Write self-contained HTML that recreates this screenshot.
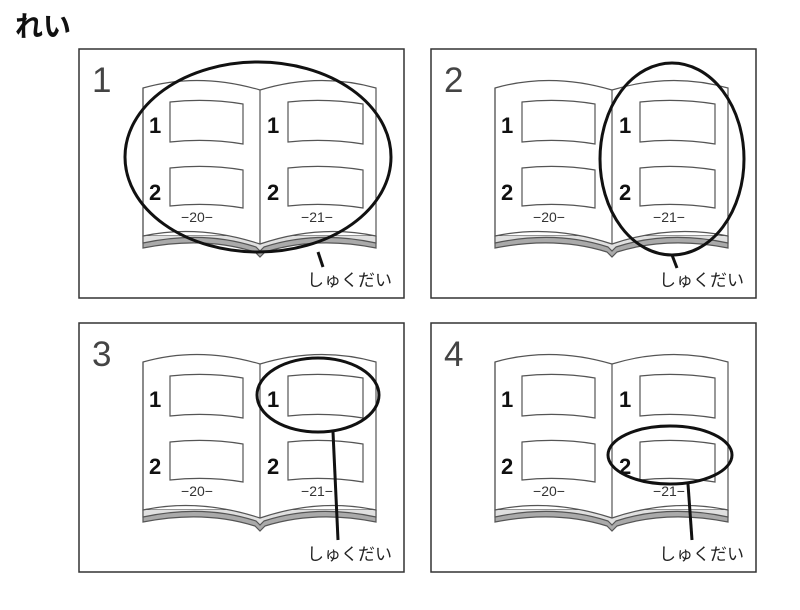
<!DOCTYPE html>
<html><head><meta charset="utf-8"><style>
body{margin:0;background:#fff}
svg{display:block}
.t{font-family:"Liberation Sans","Noto Sans CJK JP",sans-serif}
</style></head><body>
<svg width="800" height="610" viewBox="0 0 800 610" xmlns="http://www.w3.org/2000/svg">
<defs>
<g id="book" fill="none" stroke="#555" stroke-width="1.2">
<path d="M64,188 L64,200 Q125,188 176,204 L181,209 L186,204 Q237,188 297,200 L297,188 Z" fill="#aaa"/>
<path d="M64,188 L64,195 Q125,182 177,199 L181,203 L185,199 Q237,182 297,195 L297,188" fill="#e0e0e0"/>
<path d="M64,40 Q120,24 181,42 Q240,24 297,40 L297,188 Q240,176 181,196 Q120,176 64,188 Z" fill="#fff"/>
<path d="M64,40 L64,188 M181,42 L181,196"/>
<path d="M91,54 Q128,50 164,56 L164,96 Q128,90 91,94 Z"/>
<path d="M91,120 Q128,116 164,122 L164,160 Q128,154 91,158 Z"/>
<path d="M209,54 Q246,50 284,56 L284,96 Q246,90 209,94 Z"/>
<path d="M209,120 Q246,116 284,122 L284,160 Q246,154 209,158 Z"/>
</g>
</defs>
<text x="15" y="36" class="t" font-size="28" font-weight="bold" fill="#111">れい</text>

<g fill="none" stroke="#333" stroke-width="1.5">
<rect x="79" y="49" width="325" height="249"/>
<rect x="431" y="49" width="325" height="249"/>
<rect x="79" y="323" width="325" height="249"/>
<rect x="431" y="323" width="325" height="249"/>
</g>

<g transform="translate(79,48)"><use href="#book"/>
<g class="t" font-size="22" font-weight="bold" fill="#111"><text x="70" y="85">1</text><text x="70" y="152">2</text><text x="188" y="85">1</text><text x="188" y="152">2</text></g>
<g class="t" font-size="14" fill="#333" text-anchor="middle"><text x="118" y="174">−20−</text><text x="238" y="174">−21−</text></g>
<text x="13" y="44" class="t" font-size="35" fill="#444">1</text>
<text x="228" y="238" class="t" font-size="17" fill="#222">しゅくだい</text></g>

<g transform="translate(431,48)"><use href="#book"/>
<g class="t" font-size="22" font-weight="bold" fill="#111"><text x="70" y="85">1</text><text x="70" y="152">2</text><text x="188" y="85">1</text><text x="188" y="152">2</text></g>
<g class="t" font-size="14" fill="#333" text-anchor="middle"><text x="118" y="174">−20−</text><text x="238" y="174">−21−</text></g>
<text x="13" y="44" class="t" font-size="35" fill="#444">2</text>
<text x="228" y="238" class="t" font-size="17" fill="#222">しゅくだい</text></g>

<g transform="translate(79,322)"><use href="#book"/>
<g class="t" font-size="22" font-weight="bold" fill="#111"><text x="70" y="85">1</text><text x="70" y="152">2</text><text x="188" y="85">1</text><text x="188" y="152">2</text></g>
<g class="t" font-size="14" fill="#333" text-anchor="middle"><text x="118" y="174">−20−</text><text x="238" y="174">−21−</text></g>
<text x="13" y="44" class="t" font-size="35" fill="#444">3</text>
<text x="228" y="238" class="t" font-size="17" fill="#222">しゅくだい</text></g>

<g transform="translate(431,322)"><use href="#book"/>
<g class="t" font-size="22" font-weight="bold" fill="#111"><text x="70" y="85">1</text><text x="70" y="152">2</text><text x="188" y="85">1</text><text x="188" y="152">2</text></g>
<g class="t" font-size="14" fill="#333" text-anchor="middle"><text x="118" y="174">−20−</text><text x="238" y="174">−21−</text></g>
<text x="13" y="44" class="t" font-size="35" fill="#444">4</text>
<text x="228" y="238" class="t" font-size="17" fill="#222">しゅくだい</text></g>

<g fill="none" stroke="#111" stroke-width="3">
<ellipse cx="258" cy="157" rx="133" ry="95"/>
<line x1="318" y1="252" x2="323" y2="267"/>
<ellipse cx="672" cy="159" rx="72" ry="96"/>
<line x1="672" y1="255" x2="677" y2="268"/>
<ellipse cx="318" cy="395" rx="61" ry="37"/>
<line x1="333" y1="432" x2="338" y2="540"/>
<ellipse cx="670" cy="455" rx="62" ry="29"/>
<line x1="688" y1="484" x2="692" y2="540"/>
</g>
</svg>
</body></html>
